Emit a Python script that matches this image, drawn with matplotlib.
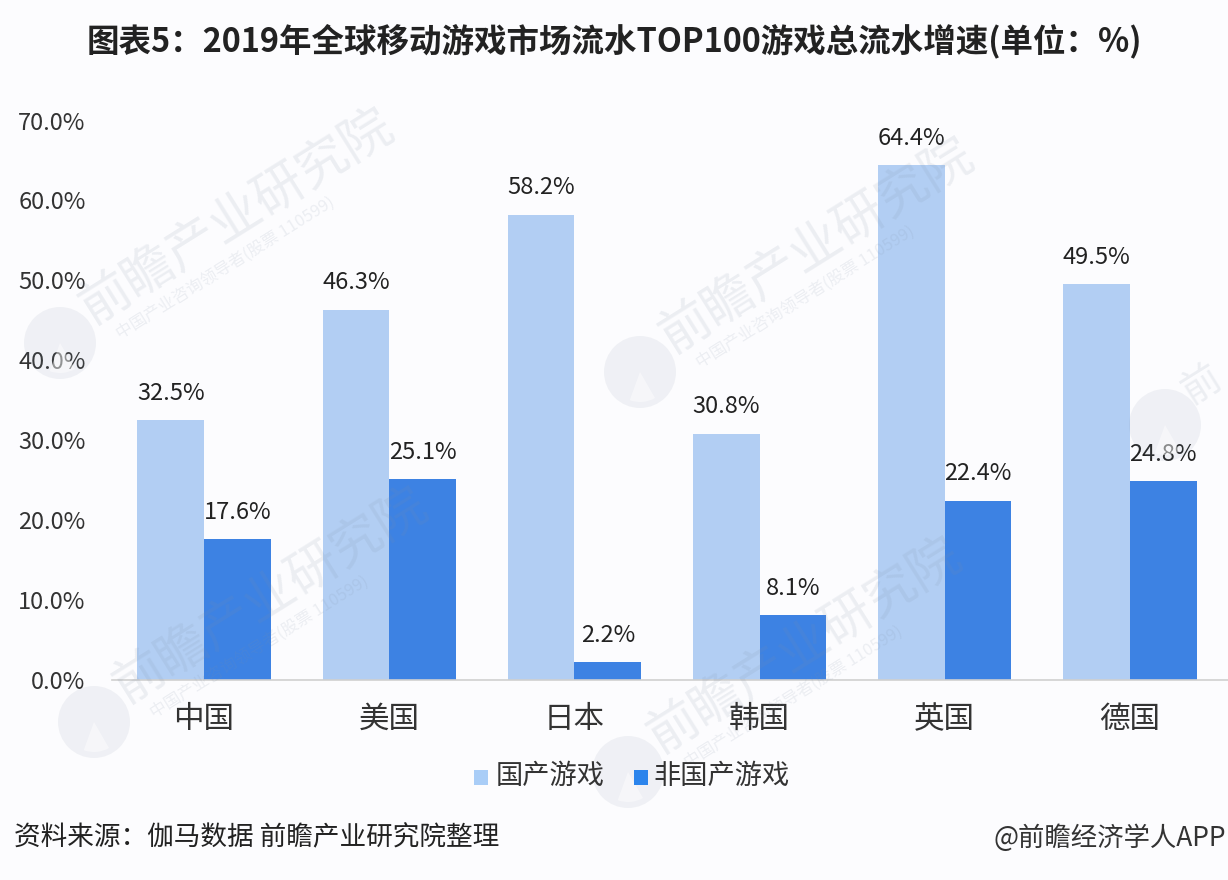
import matplotlib
matplotlib.use('Agg')
import matplotlib.pyplot as plt
import numpy as np
from matplotlib.patches import Rectangle, Circle, Wedge

plt.rcParams['font.family'] = ['Noto Sans CJK SC', 'DejaVu Sans']

categories = ['中国', '美国', '日本', '韩国', '英国', '德国']
domestic = [32.5, 46.3, 58.2, 30.8, 64.4, 49.5]
foreign = [17.6, 25.1, 2.2, 8.1, 22.4, 24.8]
y_ticks = [0, 10, 20, 30, 40, 50, 60, 70]
series_names = ['国产游戏', '非国产游戏']
title = '图表5：2019年全球移动游戏市场流水TOP100游戏总流水增速(单位：%)'
source = '资料来源：伽马数据 前瞻产业研究院整理'
credit = '@前瞻经济学人APP'
wm_main = '前瞻产业研究院'
wm_sub = '中国产业咨询领导者(股票 110599)'
# logo centre x, y and number of visible characters for each watermark
wm_places = [(60, 343, 7), (640, 372, 7), (94, 722, 7), (628, 772, 7), (1165, 425, 1)]

W, H = 1228, 880
fig = plt.figure(figsize=(W / 100, H / 100), dpi=100, facecolor='#fcfcfe')

ax = fig.add_axes([112 / W, 1 - 679.5 / H, (1228 - 112) / W, (679.5 - 120.5) / H])
ax.patch.set_alpha(0)
x = np.arange(len(categories))
w = 0.36
ax.bar(x - w / 2, domestic, w, color='#b2cef3', zorder=2)
ax.bar(x + w / 2, foreign, w, color='#3d82e3', zorder=2)
ax.set_xlim(-92 / 185.2, (1228 - 204) / 185.2)
ax.set_ylim(0, 70)
ax.set_yticks(y_ticks, [f'{v:.1f}%' for v in y_ticks])
ax.set_xticks(x, categories)
ax.tick_params(axis='both', length=0, colors='#333333')
ax.tick_params(axis='y', labelsize=17, pad=19)
ax.tick_params(axis='x', labelsize=22, pad=17.5)
for s in ['top', 'right', 'left']:
    ax.spines[s].set_visible(False)
ax.spines['bottom'].set_color('#d0d0d0')
ax.spines['bottom'].set_linewidth(1.2)
for xi, d, f in zip(x, domestic, foreign):
    ax.annotate(f'{d:.1f}%', (xi - w / 2, d), xytext=(0, 11), textcoords='offset points',
                ha='center', va='bottom', fontsize=17, color='#222222', zorder=5)
    ax.annotate(f'{f:.1f}%', (xi + w / 2, f), xytext=(0, 11), textcoords='offset points',
                ha='center', va='bottom', fontsize=17, color='#222222', zorder=5)

# Overlay canvas for title, legend, footer and watermarks
bg = fig.add_axes([0, 0, 1, 1], zorder=5)
bg.patch.set_alpha(0)
bg.set_xlim(0, W); bg.set_ylim(H, 0); bg.axis('off')

wm_color = '#7f8fa6'
for lx, ly, n in wm_places:
    bg.add_patch(Circle((lx, ly), 36, color=wm_color, alpha=0.10, lw=0))
    bg.add_patch(Wedge((lx, ly), 30, 60, 110, color='#ffffff', alpha=0.45, lw=0))
    if n > 1:
        bg.text(lx + 24, ly - 30, wm_main[:n], fontsize=37, color=wm_color, alpha=0.13, rotation=32,
                rotation_mode='anchor', ha='left', va='center')
        bg.text(lx + 58, ly - 8, wm_sub, fontsize=12, color=wm_color, alpha=0.13, rotation=32,
                rotation_mode='anchor', ha='left', va='center')
    else:
        bg.text(lx + 20, ly - 30, wm_main[:n], fontsize=28, color=wm_color, alpha=0.13, rotation=32,
                rotation_mode='anchor', ha='left', va='center')

bg.text(614, 41, title, fontsize=23.4, weight='bold', color='#222222', ha='center', va='center')

# Legend
bg.add_patch(Rectangle((474, 770), 14, 15, color='#a9cdf7', lw=0))
bg.text(496, 776, series_names[0], fontsize=19.6, color='#333333', va='center')
bg.add_patch(Rectangle((634, 770), 14, 15, color='#2b84ec', lw=0))
bg.text(653, 776, series_names[1], fontsize=19.6, color='#333333', va='center')

bg.text(14, 838, source, fontsize=19.2, color='#222222', va='center')
bg.text(1226, 838, credit, fontsize=19, color='#333333', va='center', ha='right')

fig.savefig('out.png', dpi=100, facecolor=fig.get_facecolor())
